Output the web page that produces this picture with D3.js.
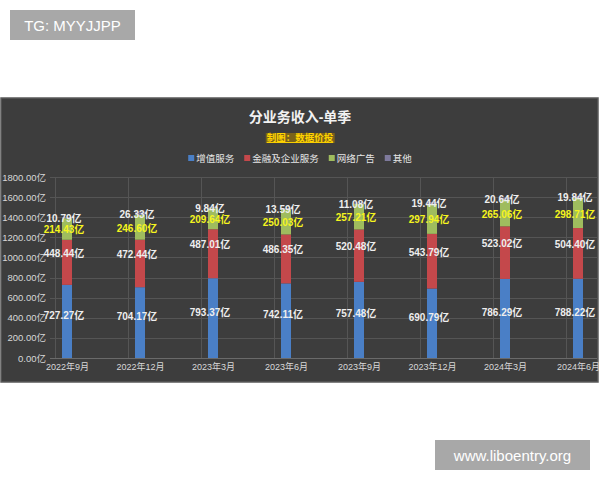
<!DOCTYPE html>
<html>
<head>
<meta charset="utf-8">
<script src="https://cdn.jsdelivr.net/npm/d3@7"></script>
<style>
  html, body { margin: 0; padding: 0; background: #ffffff; }
  svg { display: block; }
  text { font-family: "Liberation Sans", "Noto Sans CJK SC", sans-serif; }
</style>
</head>
<body>
<svg id="chart" width="600" height="480"></svg>
<script>
// ---- data ----
const categories = ["2022年9月", "2022年12月", "2023年3月", "2023年6月", "2023年9月", "2023年12月", "2024年3月", "2024年6月"];
const seriesNames = ["增值服务", "金融及企业服务", "网络广告", "其他"];
const valueAdded = [727.27, 704.17, 793.37, 742.11, 757.48, 690.79, 786.29, 788.22];
const fintech = [448.44, 472.44, 487.01, 486.35, 520.48, 543.79, 523.02, 504.40];
const ads = [214.43, 246.60, 209.64, 250.03, 257.21, 297.94, 265.06, 298.71];
const others = [10.79, 26.33, 9.84, 13.59, 11.08, 19.44, 20.64, 19.84];
const yTickValues = [0, 200, 400, 600, 800, 1000, 1200, 1400, 1600, 1800];
const chartTitle = "分业务收入-单季";
const chartSubtitle = "制图：数据价投";

// ---- styles ----
const colors = ["#4a7fc6", "#c4484b", "#9fbc5e", "#7e7a9c"];
const labelColors = ["#eeeeee", "#eeeeee", "#f5f51e", "#eeeeee"];
const labelDy = [-6, -9, 1, 1];

const svg = d3.select("#chart");

// watermark boxes
const wm1 = svg.append("g");
wm1.append("rect").attr("x", 10).attr("y", 10).attr("width", 125).attr("height", 30).attr("fill", "#a8a8a8");
wm1.append("text").attr("x", 72.5).attr("y", 31).attr("text-anchor", "middle")
  .attr("fill", "#ffffff").style("font-size", "15px").text("TG: MYYJJPP");

const wm2 = svg.append("g");
wm2.append("rect").attr("x", 435).attr("y", 440).attr("width", 155).attr("height", 30).attr("fill", "#a8a8a8");
wm2.append("text").attr("x", 512.5).attr("y", 461).attr("text-anchor", "middle")
  .attr("fill", "#ffffff").style("font-size", "15px").text("www.liboentry.org");

// dark panel
svg.append("rect").attr("x", 1).attr("y", 98).attr("width", 597).attr("height", 284)
  .attr("fill", "#3d3d3d").attr("stroke", "#5a5a5a").attr("stroke-width", 1.5);

svg.append("clipPath").attr("id", "panelClip").append("rect")
  .attr("x", 2).attr("y", 99).attr("width", 595).attr("height", 282);

// title
svg.append("text").attr("x", 300).attr("y", 122).attr("text-anchor", "middle")
  .attr("fill", "#f2f2f2").style("font-size", "14px").style("font-weight", "bold").text(chartTitle);

// subtitle with highlight
const subG = svg.append("g");
const subBg = subG.append("rect");
const sub = subG.append("text").attr("x", 300).attr("y", 141).attr("text-anchor", "middle")
  .attr("fill", "#ffd400").style("font-size", "9.5px").style("font-weight", "bold")
  .style("text-decoration", "underline").text(chartSubtitle);
const sb = sub.node().getBBox();
subBg.attr("x", sb.x - 1).attr("y", sb.y + 1).attr("width", sb.width + 2).attr("height", sb.height - 1)
  .attr("fill", "#8a6d12").attr("opacity", 0.8);

// legend
const legend = svg.append("g");
let lx = 0;
seriesNames.forEach((name, i) => {
  const g = legend.append("g").attr("transform", `translate(${lx},0)`);
  g.append("rect").attr("x", 0).attr("y", -3).attr("width", 6).attr("height", 6).attr("fill", colors[i]);
  const t = g.append("text").attr("x", 8).attr("y", 3.5).attr("fill", "#e6e6e6")
    .style("font-size", "9.5px").text(name);
  lx += 8 + t.node().getComputedTextLength() + 10;
});
lx -= 10;
legend.attr("transform", `translate(${300 - lx / 2},158)`);

// scales
const y = d3.scaleLinear().domain([0, 1800]).range([358, 177]);
const xc = d3.scalePoint().domain(categories).range([67, 578]);
const barW = 10;

const plot = svg.append("g").attr("clip-path", "url(#panelClip)");

// horizontal gridlines
plot.append("g").selectAll("line").data(yTickValues).join("line")
  .attr("x1", 50).attr("x2", 597)
  .attr("y1", d => Math.round(y(d)) + 0.5).attr("y2", d => Math.round(y(d)) + 0.5)
  .attr("stroke", d => d === 0 ? "#6a6a6a" : "#555555").attr("stroke-width", 1);

// vertical gridlines
plot.append("g").selectAll("line").data(categories).join("line")
  .attr("x1", d => Math.round(xc(d) - 12) + 0.5).attr("x2", d => Math.round(xc(d) - 12) + 0.5)
  .attr("y1", 177).attr("y2", 358)
  .attr("stroke", "#555555").attr("stroke-width", 1);

// y axis labels
const yAxis = d3.axisLeft(y).tickValues(yTickValues).tickSize(0).tickPadding(0)
  .tickFormat(d => d3.format(".2f")(d) + "亿");
const ya = svg.append("g").attr("transform", "translate(46,0)").call(yAxis);
ya.select(".domain").remove();
ya.selectAll("text").attr("fill", "#d8d8d8").style("font-size", "9.5px");

// x axis labels
const xAxis = d3.axisBottom(xc).tickSize(0).tickPadding(0);
const xa = svg.append("g").attr("transform", "translate(0,364)").call(xAxis);
xa.select(".domain").remove();
xa.selectAll("text").attr("fill", "#d8d8d8").style("font-size", "9px");

// stacked data
const table = categories.map((c, i) => ({ cat: c, s0: valueAdded[i], s1: fintech[i], s2: ads[i], s3: others[i] }));
const stack = d3.stack().keys(["s0", "s1", "s2", "s3"]);
const stacked = stack(table);

const bars = plot.append("g");
stacked.forEach((layer, si) => {
  bars.append("g").selectAll("rect").data(layer).join("rect")
    .attr("x", d => xc(d.data.cat) - barW / 2)
    .attr("y", d => y(d[1]))
    .attr("width", barW)
    .attr("height", d => y(d[0]) - y(d[1]))
    .attr("fill", colors[si]);
});

// labels
const labels = svg.append("g");
stacked.forEach((layer, si) => {
  labels.append("g").selectAll("text").data(layer).join("text")
    .attr("x", d => xc(d.data.cat) - 3)
    .attr("y", d => y((d[0] + d[1]) / 2) + labelDy[si] + 3.5)
    .attr("text-anchor", "middle")
    .attr("fill", labelColors[si])
    .style("font-size", "10px").style("font-weight", "bold")
    .text(d => d3.format(".2f")(d.data[layer.key]) + "亿");
});
</script>
</body>
</html>
